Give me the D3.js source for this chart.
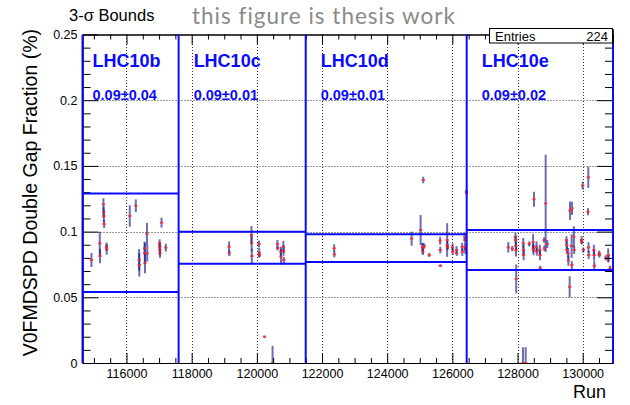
<!DOCTYPE html>
<html>
<head>
<meta charset="utf-8">
<script src="https://cdn.jsdelivr.net/npm/d3@7"></script>
<style>
  html, body { margin: 0; padding: 0; background: #fff; }
  svg { display: block; }
  text { font-family: "Liberation Sans", Arial, Helvetica, sans-serif; }
</style>
</head>
<body>
<svg id="chart" width="630" height="405"></svg>
<script>
// Run-by-run double-gap fraction with 3-sigma bounds per data-taking period

const periods = ["LHC10b", "LHC10c", "LHC10d", "LHC10e"];
// period edges on the run axis (first edge and last edge are the axis limits)
const periodEdges = [114650, 117600, 121500, 126440, 130930];
// mean and 3-sigma half-width of each period
const periodMean = [0.0915, 0.0877, 0.0874, 0.0860];
const periodBound = [0.0375, 0.0121, 0.0105, 0.0152];

const runs = [
  // LHC10b
  114925, 115180, 115188, 115292, 115298, 115305, 115312, 115386, 115392, 116101,
  116286, 116387, 116393, 116556, 116562, 116568, 116628, 116636, 117016, 117020,
  117024, 117028, 117075, 117207,
  // LHC10c
  119148, 119154, 119834, 119840, 119846, 120066, 120072, 120078, 120237, 120483,
  120632, 120638, 120735, 120741, 120815, 120821, 120827,
  // LHC10d
  122372, 122378, 124750, 125026, 125084, 125090, 125096, 125106, 125137, 125290,
  125624, 125630, 125634, 125840, 125846, 125850, 126005, 126012, 126128, 126134,
  126300, 126306, 126380, 126385, 126390, 126395, 126430,
  // LHC10e
  127716, 127839, 127938, 127943, 127948, 127953, 127960, 128167, 128177, 128182,
  128187, 128250, 128361, 128478, 128484, 128490, 128505, 128583, 128593, 128684,
  128690, 128696, 128816, 128824, 128864, 128913, 129503, 129509, 129515, 129553,
  129560, 129600, 129610, 129660, 129666, 129672, 129730, 129738, 129965, 129972,
  130000, 130019, 130163, 130172, 130178, 130184, 130343, 130349, 130355, 130505,
  130512, 130706, 130782, 130790, 130838
];

const fraction = [
  0.0784, 0.0911, 0.0814, 0.1208, 0.1147, 0.1119, 0.1058, 0.0885, 0.0865, 0.1119,
  0.1197, 0.0784, 0.0746, 0.0873, 0.0835, 0.0759, 0.0982, 0.0835, 0.0911, 0.0885,
  0.0860, 0.0835, 0.1068, 0.0878,
  0.0885, 0.0835, 0.0974, 0.0911, 0.0814, 0.0906, 0.0839, 0.0822, 0.0200, 0.0000,
  0.0906, 0.0873, 0.0847, 0.0809, 0.0885, 0.0855, 0.0784,
  0.0873, 0.0827, 0.0946, 0.1012, 0.0885, 0.0873, 0.0847, 0.1393, 0.0890, 0.0822,
  0.0931, 0.0860, 0.0740, 0.0936, 0.0898, 0.0880, 0.0880, 0.0847, 0.0860, 0.0835,
  0.0885, 0.0845, 0.0961, 0.0936, 0.0885, 0.0860, 0.1300,
  0.0880, 0.0870, 0.0961, 0.0936, 0.0890, 0.0860, 0.0640, 0.0000, 0.0911, 0.0860,
  0.0822, 0.0000, 0.0906, 0.0920, 0.0873, 0.0860, 0.1246, 0.0885, 0.0847, 0.0860,
  0.0822, 0.0720, 0.0936, 0.0873, 0.1215, 0.0906, 0.0936, 0.0898, 0.0860, 0.0835,
  0.0780, 0.0580, 0.1159, 0.0890, 0.0745, 0.1177, 0.0961, 0.0860, 0.0936, 0.0923,
  0.1350, 0.0860, 0.1151, 0.1413, 0.0880, 0.0822, 0.0860, 0.0822, 0.0740, 0.0835,
  0.0822, 0.0800, 0.0822, 0.0795, 0.0720
];

const fractionErr = [
  0.0053, 0.0088, 0.0055, 0.0046, 0.0040, 0.0045, 0.0030, 0.0032, 0.0040, 0.0082,
  0.0048, 0.0083, 0.0088, 0.0050, 0.0080, 0.0076, 0.0084, 0.0063, 0.0030, 0.0035,
  0.0040, 0.0035, 0.0038, 0.0030,
  0.0040, 0.0022, 0.0068, 0.0060, 0.0055, 0.0026, 0.0035, 0.0018, 0.0008, 0.0130,
  0.0030, 0.0015, 0.0038, 0.0060, 0.0045, 0.0038, 0.0023,
  0.0030, 0.0023, 0.0054, 0.0114, 0.0030, 0.0040, 0.0025, 0.0025, 0.0020, 0.0015,
  0.0030, 0.0025, 0.0010, 0.0128, 0.0030, 0.0020, 0.0030, 0.0025, 0.0030, 0.0020,
  0.0030, 0.0030, 0.0030, 0.0020, 0.0030, 0.0030, 0.0020,
  0.0040, 0.0020, 0.0030, 0.0030, 0.0040, 0.0050, 0.0110, 0.0120, 0.0040, 0.0040,
  0.0040, 0.0120, 0.0020, 0.0060, 0.0030, 0.0040, 0.0057, 0.0040, 0.0030, 0.0040,
  0.0040, 0.0020, 0.0020, 0.0020, 0.0370, 0.0030, 0.0030, 0.0030, 0.0030, 0.0040,
  0.0040, 0.0080, 0.0070, 0.0090, 0.0030, 0.0050, 0.0080, 0.0030, 0.0030, 0.0020,
  0.0030, 0.0020, 0.0027, 0.0080, 0.0040, 0.0030, 0.0040, 0.0040, 0.0040, 0.0020,
  0.0020, 0.0020, 0.0050, 0.0030, 0.0020
];

const xMajorTicks = [116000, 118000, 120000, 122000, 124000, 126000, 128000, 130000];
const yMajorTicks = [0, 0.05, 0.1, 0.15, 0.2, 0.25];
const entries = 224;

const chartTitle = "3-\u03c3 Bounds";
const watermark = "this figure is thesis work";
const xTitle = "Run";
const yTitle = "V0FMDSPD Double Gap Fraction (%)";

// ---------------------------------------------------------------
const frame = { left: 82.5, right: 613, top: 34.5, bottom: 363 };
const svg = d3.select("#chart");

const x = d3.scaleLinear()
  .domain([periodEdges[0], periodEdges[periodEdges.length - 1]])
  .range([frame.left, frame.right]);
const y = d3.scaleLinear().domain([0, 0.25]).range([frame.bottom, frame.top]);

const xMinor = d3.range(115000, periodEdges[periodEdges.length - 1], 500)
  .filter(v => !xMajorTicks.includes(v));
const yMinor = d3.range(0, 26).map(i => +(i * 0.01).toFixed(2))
  .filter(v => !yMajorTicks.some(t => Math.abs(t - v) < 1e-9));

// dotted grid on major ticks
const grid = svg.append("g").attr("stroke", "#000").attr("stroke-width", 1)
  .attr("stroke-dasharray", "1,2").attr("opacity", 0.8);
grid.selectAll("line.gx").data(xMajorTicks).join("line")
  .attr("x1", d => Math.round(x(d)) + 0.5).attr("x2", d => Math.round(x(d)) + 0.5)
  .attr("y1", frame.bottom).attr("y2", frame.top);
grid.selectAll("line.gy").data(yMajorTicks.filter(d => d > 0 && d < 0.25)).join("line")
  .attr("x1", frame.left).attr("x2", frame.right)
  .attr("y1", d => Math.round(y(d)) + 0.5).attr("y2", d => Math.round(y(d)) + 0.5);

// measurements: error bars and markers
const points = runs.map((r, i) => ({ run: r, v: fraction[i], e: fractionErr[i] }));
const pts = svg.append("g");
pts.selectAll("line").data(points).join("line")
  .attr("x1", d => x(d.run)).attr("x2", d => x(d.run))
  .attr("y1", d => y(Math.max(0, d.v - d.e))).attr("y2", d => y(d.v + d.e))
  .attr("stroke", "#12128e").attr("stroke-width", 2).attr("stroke-opacity", 0.62);
pts.selectAll("rect").data(points).join("rect")
  .attr("x", d => x(d.run) - 1.6).attr("y", d => y(d.v) - 1)
  .attr("width", 3.2).attr("height", 2)
  .attr("fill", "#ff2626").attr("fill-opacity", 0.85);

// axes
const axisStyle = g => {
  g.selectAll("path.domain").attr("stroke", "#000").attr("stroke-width", 1);
  g.selectAll(".tick line").attr("stroke", "#000").attr("stroke-width", 1);
  g.selectAll("text").attr("fill", "#000").attr("font-size", "12.5px")
    .attr("font-family", "'Liberation Sans', Arial, sans-serif");
};

svg.append("g").attr("transform", `translate(0,${frame.bottom})`)
  .call(d3.axisBottom(x).tickValues(xMajorTicks).tickSize(-10).tickSizeOuter(0)
    .tickPadding(5).tickFormat(d3.format("d")))
  .call(axisStyle)
  .selectAll("text").attr("dy", "0.71em").attr("y", 6);
svg.append("g").attr("transform", `translate(0,${frame.bottom})`)
  .call(d3.axisBottom(x).tickValues(xMinor).tickSize(-5).tickSizeOuter(0).tickFormat(""))
  .call(axisStyle);
svg.append("g").attr("transform", `translate(0,${frame.top})`)
  .call(d3.axisTop(x).tickValues(xMajorTicks).tickSize(-10).tickSizeOuter(0).tickFormat(""))
  .call(axisStyle);
svg.append("g").attr("transform", `translate(0,${frame.top})`)
  .call(d3.axisTop(x).tickValues(xMinor).tickSize(-5).tickSizeOuter(0).tickFormat(""))
  .call(axisStyle);

const yFmt = d => d === 0 ? "0" : String(+d.toFixed(2));
svg.append("g").attr("transform", `translate(${frame.left},0)`)
  .call(d3.axisLeft(y).tickValues(yMajorTicks).tickSize(-16).tickSizeOuter(0)
    .tickPadding(5).tickFormat(yFmt))
  .call(axisStyle);
svg.append("g").attr("transform", `translate(${frame.left},0)`)
  .call(d3.axisLeft(y).tickValues(yMinor).tickSize(-8).tickSizeOuter(0).tickFormat(""))
  .call(axisStyle);
svg.append("g").attr("transform", `translate(${frame.right},0)`)
  .call(d3.axisRight(y).tickValues(yMajorTicks).tickSize(-16).tickSizeOuter(0).tickFormat(""))
  .call(axisStyle);
svg.append("g").attr("transform", `translate(${frame.right},0)`)
  .call(d3.axisRight(y).tickValues(yMinor).tickSize(-8).tickSizeOuter(0).tickFormat(""))
  .call(axisStyle);

// period boundaries and 3-sigma bounds
const blue = "#0a0aff";
const bounds = svg.append("g").attr("stroke", blue).attr("stroke-width", 2);
bounds.selectAll("line.edge").data(periodEdges).join("line")
  .attr("x1", d => x(d)).attr("x2", d => x(d))
  .attr("y1", frame.top).attr("y2", frame.bottom);
const limits = periods.flatMap((p, i) => [
  { i, v: periodMean[i] + periodBound[i] },
  { i, v: periodMean[i] - periodBound[i] }
]);
bounds.selectAll("line.lim").data(limits).join("line")
  .attr("x1", d => x(periodEdges[d.i])).attr("x2", d => x(periodEdges[d.i + 1]))
  .attr("y1", d => y(d.v)).attr("y2", d => y(d.v));

// period names and mean +- bound
const labels = svg.append("g").attr("fill", blue).attr("font-weight", "bold");
periods.forEach((p, i) => {
  const lx = x(periodEdges[i]) + (i === 0 ? 10 : 15);
  labels.append("text").attr("x", lx).attr("y", 67).attr("font-size", "18px").text(p);
  labels.append("text").attr("x", lx).attr("y", 99.5).attr("font-size", "14.5px")
    .text(`${periodMean[i].toFixed(2)}\u00b1${periodBound[i].toFixed(2)}`);
});

// statistics box
const stats = svg.append("g");
stats.append("rect").attr("x", 489.5).attr("y", 28.5).attr("width", 123).attr("height", 14.5)
  .attr("fill", "#fff").attr("stroke", "#000").attr("stroke-width", 1);
stats.append("line").attr("x1", 613).attr("x2", 613).attr("y1", 29).attr("y2", 44)
  .attr("stroke", "#000").attr("stroke-width", 1.5);
stats.append("text").attr("x", 495).attr("y", 40.5).attr("font-size", "13px").text("Entries");
stats.append("text").attr("x", 608).attr("y", 40.5).attr("font-size", "13px")
  .attr("text-anchor", "end").text(entries);

// titles
svg.append("text").attr("x", 69).attr("y", 20.5).attr("font-size", "16.5px").text(chartTitle);
svg.append("text").attr("x", 192).attr("y", 24).attr("font-size", "22.5px")
  .attr("letter-spacing", "1px")
  .style("font-family", "Lato, 'Open Sans', sans-serif").attr("fill", "#8a8a8a").text(watermark);
svg.append("text").attr("x", 606).attr("y", 398).attr("font-size", "18px")
  .attr("text-anchor", "end").text(xTitle);
svg.append("text").attr("transform", "translate(37,29) rotate(-90)")
  .attr("font-size", "19.5px").attr("text-anchor", "end").text(yTitle);
</script>
</body>
</html>
